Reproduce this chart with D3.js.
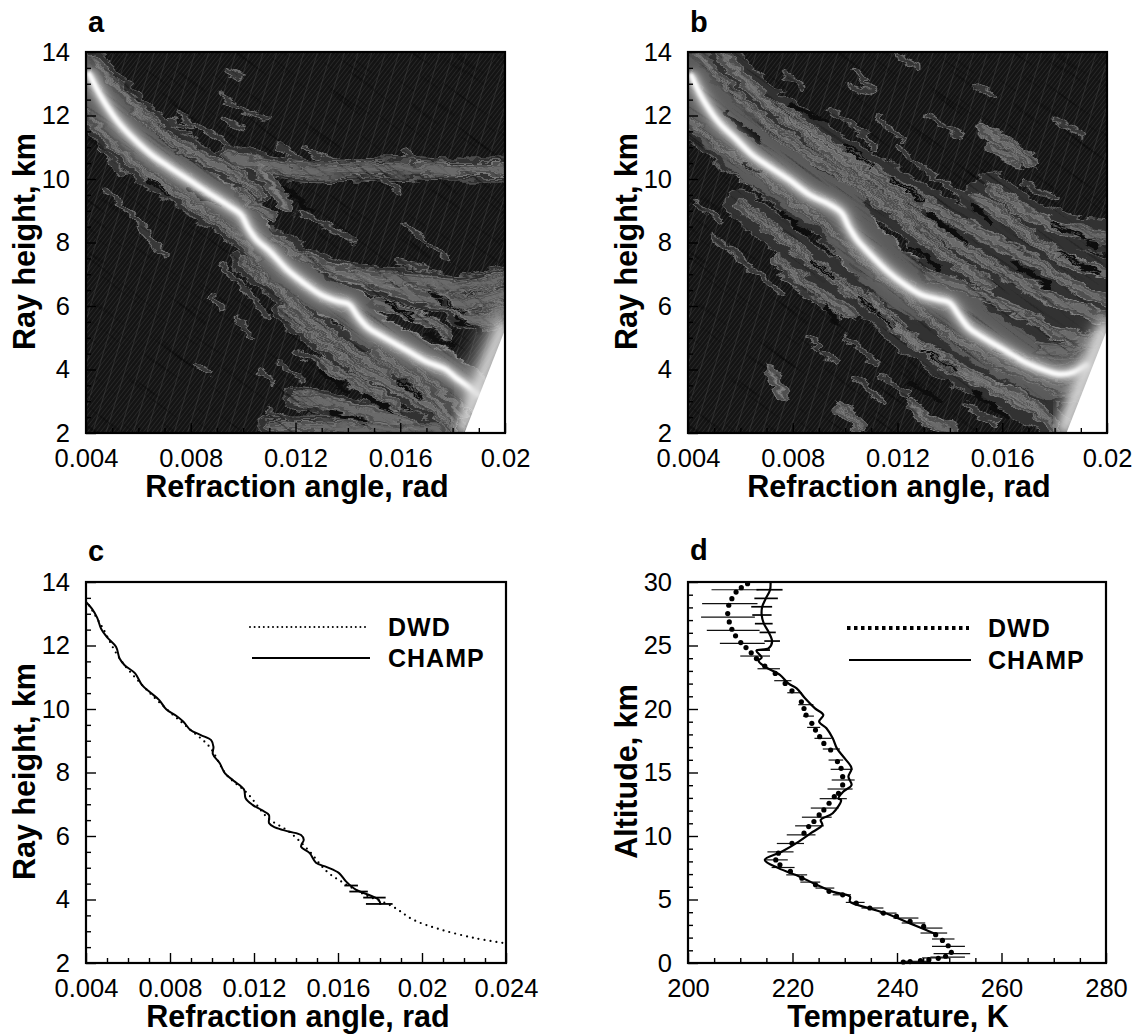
<!DOCTYPE html>
<html>
<head>
<meta charset="utf-8">
<title>Refraction angle and temperature profiles</title>
<script src="https://cdn.jsdelivr.net/npm/d3@7"></script>
<style>
	body{margin:0;background:#fff;}
	svg{display:block;}
	text{font-family:"Liberation Sans",Arial,sans-serif;fill:#000;}
</style>
</head>
<body>
<div id="Container"></div>
<script>
// tick values
var rayTicks=[2,4,6,8,10,12,14];
var rayMinor=[2.5,3,3.5,4.5,5,5.5,6.5,7,7.5,8.5,9,9.5,10.5,11,11.5,12.5,13,13.5];
var angleTicksTop=[0.004,0.008,0.012,0.016,0.02];
var angleMinorTop=[0.005,0.006,0.007,0.009,0.01,0.011,0.013,0.014,0.015,0.017,0.018,0.019];
var angleTicksC=[0.004,0.008,0.012,0.016,0.02,0.024];
var angleMinorC=[0.005,0.006,0.007,0.009,0.01,0.011,0.013,0.014,0.015,0.017,0.018,0.019,0.021,0.022,0.023];
var altTicks=[0,5,10,15,20,25,30];
var altMinor=[1,2,3,4,6,7,8,9,11,12,13,14,16,17,18,19,21,22,23,24,26,27,28,29];
var tempTicks=[200,220,240,260,280];
var tempMinor=[205,210,215,225,230,235,245,250,255,265,270,275];

// bright ridge of the maps, [angle in mrad, height km]
var ridgeA=[[4.09,13.37],[4.58,12.59],[5.22,11.8],[5.87,11.23],[6.51,10.76],[7.16,10.39],[7.93,9.97],[8.7,9.55],[9.48,9.14],[9.93,8.87],[10.19,8.46],[10.51,8.09],[11.02,7.72],[11.67,7.15],[12.31,6.73],[12.96,6.36],[13.6,6.15],[14.05,6.05],[14.37,5.68],[14.76,5.32],[15.28,5.06],[16.18,4.64],[16.95,4.27],[17.72,4.01],[18.11,3.75],[18.63,3.44],[19.01,3.17]];
var ridgeB=[[4.1,13.32],[4.52,12.59],[5.16,11.8],[5.81,11.28],[6.45,10.76],[7.1,10.39],[7.87,9.97],[8.65,9.5],[9.42,9.19],[9.87,8.93],[10.13,8.51],[10.45,8.09],[10.97,7.62],[11.61,7.1],[12.26,6.68],[12.9,6.36],[13.55,6.21],[14,6.1],[14.32,5.74],[14.71,5.32],[15.23,5.03],[16.13,4.59],[16.9,4.22],[17.68,3.96],[18.19,3.85],[18.71,3.91],[19.29,4.17]];
var wedge=[[18.45,2],[20,5.25],[20,2]];
var wedgeEdge=[[18.3,2],[19.1,3.7],[20,5.5]];
var wedgeGlowA=[[18.4,3],[19.2,4.6],[20,6.3]];

// grey streaks around the ridge, mrad / km
var wideA=[
	[[4.3,13.7],[5.2,12.9],[6.2,12],[7.2,11.3],[8.4,10.7],[9.6,10.2],[10.6,9.6]],
	[[9.4,10.7],[11,10.4],[12.6,10.25],[14.4,10.3],[16,10.35],[18,10.3],[20,10.3]],
	[[9.9,9.5],[10.5,9.1],[11.1,8.85]],
	[[10.6,10.4],[11.2,9.7],[11.7,9.1]],
	[[4.1,12],[5.2,11],[6.4,10.1],[7.6,9.5],[8.8,8.8],[9.8,8.2],[10.6,7.5]],
	[[11.2,8.1],[12.6,7.4],[14,7],[15.6,6.6],[17.2,6.2],[18.6,6.1],[20,6.4]],
	[[13.4,7.1],[15,6.9],[16.6,6.8],[18.2,6.6],[20,6.9]],
	[[15,6.1],[16.5,5.7],[17.8,5.2]],
	[[17.5,6.4],[18.6,5.6],[19.4,5.6],[20,5.9]],
	[[10,7.4],[11.5,6.4],[12.5,5.6],[13.5,5],[14.5,4.4],[15.5,3.9]],
	[[11.6,5.8],[13,4.9],[14.5,4],[16,3.4],[17.2,2.8],[18,2.2]],
	[[15,4.6],[16.2,3.9],[17.2,3.2],[18,2.4]],
	[[16.6,4],[17.5,3.4],[18.3,2.6]],
	[[12,3.1],[13.5,2.9],[15,2.6],[16.5,2.3]],
	[[11,2.2],[13,2.2],[15,2.1],[17.5,2.1]],
	[[13,4.2],[14.5,3.5],[15.8,2.9]]
];
var thinA=[
	[[9.4,13.4],[9.9,13.2]],[[9.2,12.6],[10,12.2],[10.9,11.9]],[[9.2,11.9],[10,11.6]],[[7.6,12],[8.4,11.6],[9.4,11.1]],[[7.2,11.8],[8,11.6]],
	[[11.4,11.1],[12,10.6]],[[12.4,11],[13.4,10.5]],[[15.4,10],[16,9.6]],[[16.2,10.9],[16.6,10.4]],[[12.2,8.9],[13.2,8.5],[14.2,8.1]],
	[[16.2,8.6],[17,8],[17.8,7.5]],[[16,7.4],[17,7.2]],[[4.6,10.9],[5.4,10.2]],[[4.8,9.6],[5.6,9],[6.4,8.3]],[[6,8.5],[7,7.6]],
	[[9.2,7.3],[10.2,6.4],[11,5.6]],[[8.8,6.3],[9.2,5.9]],[[9.8,5.6],[10.4,5]],[[8.2,4.1],[8.8,3.9]],[[10.6,4],[11.2,3.6]],[[11.4,4.2],[12.2,3.7]],
	[[11,2.7],[12,2.4]],[[12,4.6],[13.2,4]]
];
var darkA=[
	[[8,9.7],[9,9.2]],[[6.4,9.9],[7.2,9.5]],[[11.6,9.7],[12.6,9]],[[15.5,6.1],[16.5,5.6]],[[17,5.1],[18,4.7]],[[18.2,5.6],[19,5.2]],
	[[17.2,6.4],[18.4,5.8]],[[13,3.9],[14,3.3]],[[14.6,3.2],[15.6,2.7]],[[13.4,2.6],[14.6,2.4]],[[16,3.6],[16.8,3.1]]
];
var wideB=[
	[[4.3,14],[5.4,13],[6.6,12],[8,11.1],[9.6,10.3],[11,9.5],[12.4,8.6],[14,7.5],[15.5,6.7]],
	[[5.2,14],[6.4,12.9],[7.6,12],[9,11.1],[10.6,10.2],[12.2,9.2],[13.8,8.2],[15.4,7.4],[17,6.6],[18.6,6],[20,5.6]],
	[[7.6,12.2],[9.2,11.2],[10.8,10.4],[12.4,9.6],[14,8.8],[15.6,8.1],[17.2,7.4],[18.8,6.6],[20,6.2]],
	[[15,9.4],[16,8.9],[17.2,8.1],[18.6,7.4],[20,7]],
	[[15.6,9.7],[17,8.9],[18.4,8.4],[20,8.2]],
	[[15.2,11.6],[16.2,11.1],[17.2,10.5]],
	[[15.6,11],[16.6,10.6]],
	[[4.1,11.8],[5.4,10.9],[6.8,10.1],[8,9.3],[9.2,8.6],[10.2,7.8],[11.6,6.8],[13,5.8],[14.2,5],[15.4,4.4]],
	[[6,9.2],[7.4,8.3],[8.6,7.5],[10,6.6],[11.4,5.8],[12.8,4.8],[14.4,3.9],[16,3.3],[17.4,2.6]],
	[[7.4,7.4],[8.6,6.6],[10.2,5.8]],
	[[11,6.2],[12.4,5],[14,4.2],[15.6,3.5],[17,3],[18,2.2]],
	[[15.5,4.3],[17,3.8],[18.2,3.4],[19,3.6]],
	[[12.6,2.9],[13.1,2.4],[14,2.1]],
	[[7.2,3.9],[7.6,3.2]],
	[[9.8,2.8],[10.6,2.2]],
	[[13,7],[14.5,6.6],[16.4,5.9],[18,5.2],[19.6,4.8]],
	[[17.4,4.6],[18.4,4.6],[19.6,5]]
];
var thinB=[
	[[11.9,13.9],[12.8,13.5]],[[7.6,13.4],[8.4,12.9]],[[10.2,13],[11,12.7]],[[15,13],[15.6,12.6]],[[9.4,12.2],[10.4,11.6],[11.2,11]],
	[[11.2,12],[12.2,11.2]],[[13.2,12],[14.4,11.3]],[[18,11.9],[19,11.4]],[[16.8,9.9],[18,9.4]],[[12,11],[13.2,10.2],[14.4,9.5]],
	[[7.4,7.2],[8.8,6.2],[9.8,5.6]],[[5,8.2],[6.4,7.2],[7.6,6.4]],[[10,5],[11.2,4.2]],[[11.4,3.8],[12.4,3.2]],[[14.6,2.9],[15.8,2.3]],
	[[10.4,13.4],[11,12.8]],[[13.6,10],[15,9.2]],[[4.3,9.3],[5.2,8.7]],[[8.6,5],[9.6,4.2]],[[10.4,3.8],[11.4,3]]
];
var darkB=[
	[[6.2,10.4],[6.7,10.2]],[[7.6,8.9],[8.6,8.3]],[[5.5,12.1],[6.8,11.1]],[[8,12.3],[9.2,11.8]],[[10,11],[11,10.4]],[[11.8,10],[13,9.3]],
	[[13.2,8.9],[14.6,8]],[[14.8,9.2],[15.6,8.6]],[[16.4,7.4],[17.8,6.6]],[[18.2,7.7],[19.6,7]],[[18,8.6],[19.6,7.9]],[[12.6,7.9],[13.6,7.2]],
	[[10.6,6.2],[11.8,5.4]],[[13,4.6],[14.2,4]],[[15.8,4.7],[17,4.2]],[[12.4,3.6],[13.6,3]],[[15,3.2],[16.2,2.5]],[[9.2,6],[9.8,5.4]],[[8.8,7.4],[9.6,6.9]]
];

// panel c, [angle rad, height km]
var dwdRay=[[0.004,13.42],[0.00477,12.58],[0.0056,11.59],[0.00675,10.7],[0.0079,9.96],[0.00889,9.39],[0.00988,8.81],[0.0107,7.92],[0.01169,7.34],[0.01267,6.56],[0.01366,6.14],[0.01465,5.51],[0.01547,4.88],[0.0163,4.51],[0.01728,4.15],[0.0186,3.78],[0.01959,3.36],[0.02091,3.05],[0.02255,2.78],[0.02387,2.63]];
var champRay=[[0.004,13.37],[0.00428,13.16],[0.00453,12.88],[0.00472,12.53],[0.00502,12.25],[0.00543,11.96],[0.0056,11.59],[0.00584,11.38],[0.00634,11.12],[0.00667,10.75],[0.00708,10.51],[0.00749,10.28],[0.00782,9.99],[0.00831,9.78],[0.00864,9.6],[0.00897,9.34],[0.00947,9.18],[0.00996,9.02],[0.01007,8.81],[0.01004,8.58],[0.01037,8.29],[0.01062,7.97],[0.01103,7.74],[0.01152,7.47],[0.0116,7.19],[0.01193,6.98],[0.01235,6.82],[0.01271,6.66],[0.01272,6.4],[0.013,6.27],[0.01366,6.14],[0.01424,6.03],[0.01437,5.88],[0.01424,5.67],[0.01465,5.46],[0.01495,5.16],[0.01547,5.02],[0.01605,4.83],[0.01638,4.57],[0.01687,4.3],[0.01745,4.15],[0.01794,3.99],[0.01802,3.83]];
// [height, low, high]
var champRayBars=[[4.44,0.0163,0.01695],[4.25,0.01654,0.01742],[4.06,0.0172,0.01827],[3.86,0.01733,0.0186]];

// panel d, [temperature K, altitude km]
var dwdTemp=[[211.4,29.87],[210.2,29.55],[209.2,29.21],[208.4,28.69],[207.8,28.17],[207.6,27.51],[207.9,26.86],[208.4,26.28],[209.1,25.76],[210.1,25.23],[211.1,24.84],[212.1,24.42],[213.1,23.97],[214.7,23.37],[216.7,22.8],[218.6,22.01],[219.9,21.43],[221.7,20.57],[222.2,20.04],[222.6,19.52],[223.7,18.87],[224.4,18.34],[225.2,17.82],[226,17.29],[227.3,16.77],[228.6,15.85],[229.3,15.33],[229.6,14.67],[229.6,14.02],[228.8,13.36],[228,13.1],[227,12.58],[226,12.05],[225.1,11.66],[224.1,11.14],[223.1,10.74],[222.2,10.22],[219.9,9.43],[217.3,8.65],[216.8,8.12],[217.6,7.73],[219.6,7.21],[221.8,6.68],[224.4,6.16],[227,5.64],[229.6,5.37],[232.2,4.72],[234.8,4.33],[237.4,3.93],[239.9,3.67],[242.5,3.28],[245.1,2.88],[247.4,2.23],[248.7,1.78],[249.8,1.36],[250.4,0.84],[249.3,0.53],[247.9,0.37],[246.1,0.26],[244.5,0.19],[242.5,0.11],[241.2,0.08]];
var champTemp=[[215.8,30],[215.7,29.37],[214.9,28.71],[214.2,28.05],[214.1,27.4],[214.5,26.74],[215.4,26.08],[216.1,25.3],[215.4,24.77],[213.1,24.59],[214.1,24.06],[213.5,23.8],[214.7,23.33],[217.6,22.68],[219.2,22.02],[220.8,21.63],[222.4,20.84],[224.3,20.05],[225.9,19.53],[225.1,19],[226.5,18.48],[227.7,17.69],[228.5,16.9],[230,16.11],[231.3,15.33],[230.7,14.67],[231.3,14.02],[229.7,13.49],[228.8,12.96],[229.3,12.84],[227.7,11.79],[225.4,11.27],[225.7,10.87],[223.5,10.22],[221.2,9.56],[218,8.78],[214.7,8.12],[217.3,7.47],[221.4,6.8],[224.3,6.22],[227.8,5.6],[231,5.22],[231,4.83],[234.8,4.3],[238.7,3.78],[242.5,3.12],[245,2.7],[247.7,2.23]];
// [altitude, low, high]
var dwdTempBars=[[29.39,204.5,213.5],[28.29,202.7,213.3],[27.24,202.5,212.8],[26.19,203.6,213.7],[25.17,206.1,214.7],[24.17,210,215.7],[23.17,213.3,217.6],[22.23,216.5,219.8],[21.28,219,221.8],[20.34,221.1,224],[19.44,222,224.1],[18.55,222.8,225.3],[17.69,224.2,227.5],[16.85,225.8,229.1],[15.98,226.9,229.7],[15.25,227.3,231.5],[14.41,227.5,231.9],[13.7,226.7,231.5],[12.94,225.2,230.4],[12.2,223.5,228.8],[11.48,221.8,227.5],[10.8,220.5,226],[10.09,218.9,224.4],[9.41,217,222.2],[8.75,215.2,220.2],[8.12,214.7,219.1],[7.52,216,220.4],[6.94,218.8,222.8],[6.37,221.5,225.3],[5.9,224.4,228],[5.37,227.7,231.2],[4.77,230.2,233.8],[4.33,233.2,237.4],[3.93,236.7,239.9],[3.54,239.3,244.1],[3.15,240.9,245.4],[2.75,244.5,248.7],[2.36,244.5,249.6],[1.89,246.7,251],[1.31,246.7,253],[0.74,247,254],[0.47,246.4,253],[0.4,244.8,250],[0.13,241.2,246.4]];
var champTempBars=[[29.39,213.1,218.1],[28.71,212.7,217.2],[28.05,212.1,216.1],[27.4,212.3,216],[26.72,212.8,216.2],[26.03,213.7,216.8],[25.35,214.6,217.6],[24.64,213.1,215.7]];

var svg=d3.select("#Container").append("svg").attr("width",1135).attr("height",1034);
var defs=svg.append("defs");

function addBlur(id,dev)
{
	defs.append("filter").attr("id",id)
		.attr("x","-20%").attr("y","-20%").attr("width","140%").attr("height","140%")
		.append("feGaussianBlur").attr("stdDeviation",dev);
}
addBlur("blur1",1.5);
addBlur("blur3",3);
addBlur("blur6",5.5);
addBlur("blur12",10);

// wobble so the streak edges look like contour lines
var wob=defs.append("filter").attr("id","wobble")
	.attr("x","-5%").attr("y","-5%").attr("width","110%").attr("height","110%");
wob.append("feTurbulence").attr("type","fractalNoise").attr("baseFrequency","0.05 0.12")
	.attr("numOctaves",3).attr("seed",4).attr("result","n");
wob.append("feDisplacementMap").attr("in","SourceGraphic").attr("in2","n")
	.attr("scale",12).attr("xChannelSelector","R").attr("yChannelSelector","G");

// stretched grain, posterized, laid over the streaks for the dark lenses
var grain=defs.append("filter").attr("id","grain")
	.attr("x","0").attr("y","0").attr("width","100%").attr("height","100%");
grain.append("feTurbulence").attr("type","fractalNoise").attr("baseFrequency","0.015 0.3")
	.attr("numOctaves",3).attr("seed",11);
grain.append("feColorMatrix").attr("type","matrix")
	.attr("values","0 0 0 1.6 -0.1  0 0 0 1.6 -0.1  0 0 0 1.6 -0.1  0 0 0 0 1");
var gt=grain.append("feComponentTransfer");
["R","G","B"].forEach(function(c){
	gt.append("feFunc"+c).attr("type","discrete").attr("tableValues","0.15 0.35 0.6 0.85 1 1 1");
});

var fine=defs.append("pattern").attr("id","fineHatch").attr("patternUnits","userSpaceOnUse")
	.attr("width",3.4).attr("height",3.4).attr("patternTransform","rotate(38)");
fine.append("line").attr("x1",0).attr("y1",0).attr("x2",0).attr("y2",3.4)
	.attr("stroke","#363636").attr("stroke-width",1);
var coarse=defs.append("pattern").attr("id","coarseHatch").attr("patternUnits","userSpaceOnUse")
	.attr("width",13).attr("height",13).attr("patternTransform","rotate(17)");
coarse.append("line").attr("x1",0).attr("y1",0).attr("x2",0).attr("y2",13)
	.attr("stroke","#4c4c4c").attr("stroke-width",0.9);

function draw_frame(g,w,h,x,y,xt,xm,yt,ym,xname,yname,cx)
{
	var xAxis=d3.axisBottom(x).tickValues(xt).tickSize(-10).tickSizeOuter(0).tickPadding(16).tickFormat(function(d){return String(d);});
	var xMinorAxis=d3.axisBottom(x).tickValues(xm).tickSize(-5).tickSizeOuter(0).tickFormat("");
	var yAxis=d3.axisLeft(y).tickValues(yt).tickSize(-10).tickSizeOuter(0).tickPadding(16);
	var yMinorAxis=d3.axisLeft(y).tickValues(ym).tickSize(-5).tickSizeOuter(0).tickFormat("");

	[[xAxis,"translate(0,"+h+")"],[xMinorAxis,"translate(0,"+h+")"],[yAxis,""],[yMinorAxis,""]].forEach(function(a){
		var ax=g.append("g").attr("transform",a[1]).call(a[0]);
		ax.select(".domain").remove();
		ax.selectAll("line").attr("stroke","#000").attr("stroke-width",1.4);
		ax.selectAll("text").style("font-size","25.5px").attr("fill","#000");
	});

	g.append("rect").attr("width",w).attr("height",h)
		.attr("fill","none").attr("stroke","#000").attr("stroke-width",2.2);

	g.append("text").attr("x",cx).attr("y",h+64)
		.attr("text-anchor","middle").style("font-size","30.5px").style("font-weight","bold").text(xname);
	g.append("text").attr("transform","translate(-51,"+(h/2-1)+") rotate(-90)")
		.attr("text-anchor","middle").style("font-size","30.5px").style("font-weight","bold").text(yname);
}

function draw_map(left,letter,ridge,wide,thin,dark,halo,spread,wedgeGlow)
{
	var w=419,h=381;
	var g=svg.append("g").attr("transform","translate("+left+",52)");
	var x=d3.scaleLinear().domain([4,20]).range([0,w]);
	var y=d3.scaleLinear().domain([2,14]).range([h,0]);
	var line=d3.line().x(function(d){return x(d[0]);}).y(function(d){return y(d[1]);}).curve(d3.curveCatmullRom);
	var poly=d3.line().x(function(d){return x(d[0]);}).y(function(d){return y(d[1]);});

	defs.append("clipPath").attr("id","clip"+letter).append("rect").attr("width",w).attr("height",h);
	var p=g.append("g").attr("clip-path","url(#clip"+letter+")");

	p.append("rect").attr("width",w).attr("height",h).attr("fill","#141414");
	p.append("rect").attr("width",w).attr("height",h).attr("fill","url(#fineHatch)");
	p.append("rect").attr("width",w).attr("height",h).attr("fill","url(#coarseHatch)");

	// streaks, outline first then the fill, so that the edges read as contours
	var tex=p.append("g").attr("filter","url(#wobble)").attr("fill","none").attr("stroke-linecap","round");
	function strokes(data,width,color)
	{
		tex.append("g").selectAll("path").data(data).enter().append("path")
			.attr("d",line).attr("stroke",color).attr("stroke-width",width);
	}
	// only the long streaks get the faint skirt, short ones would turn into round blobs
	var longOnes=wide.filter(function(d){return d.length>3;});
	strokes(longOnes,spread+2,"#666");
	strokes([ridge],halo+3,"#858585");
	strokes(thin,6,"#707070");
	strokes(longOnes,spread,"#323232");
	strokes(wide,13,"#777");
	strokes([ridge],halo,"#5a5a5a");
	strokes(wide,11,"#4f4f4f");
	strokes(thin,3.8,"#383838");
	strokes(wide,4,"#6a6a6a");
	strokes(dark,5,"#0a0a0a");

	// grain only over the grey parts, the black background stays as it is
	p.append("g").attr("transform","translate("+(w/2)+","+(h/2)+") rotate(36)")
		.append("rect").attr("x",-w).attr("y",-h).attr("width",2*w).attr("height",2*h)
		.attr("filter","url(#grain)").style("mix-blend-mode","multiply");

	// fine light contour filaments running along the streaks
	var fil=p.append("g").attr("filter","url(#wobble)").attr("fill","none").attr("stroke","#8e8e8e")
		.attr("stroke-width",0.8).attr("opacity",0.7);
	[-8,-3,3,8].forEach(function(off){
		fil.append("g").attr("transform","translate("+(off*0.55)+","+off+")")
			.selectAll("path").data(wide.concat([ridge])).enter().append("path").attr("d",line);
	});

	// glow around the ridge
	p.append("path").datum(wedgeGlow).attr("d",line).attr("fill","none")
		.attr("stroke","#8a8a8a").attr("stroke-width",18).attr("opacity",0.9).attr("filter","url(#blur12)");
	p.append("path").datum(ridge).attr("d",line).attr("fill","none")
		.attr("stroke","#808080").attr("stroke-width",16).attr("opacity",0.55).attr("filter","url(#blur12)");
	p.append("path").datum(ridge).attr("d",line).attr("fill","none")
		.attr("stroke","#aaa").attr("stroke-width",12).attr("opacity",0.9).attr("filter","url(#blur6)");
	p.append("path").datum(ridge).attr("d",line).attr("fill","none")
		.attr("stroke","#ddd").attr("stroke-width",7).attr("filter","url(#blur3)");
	p.append("path").datum(ridge).attr("d",line).attr("fill","none")
		.attr("stroke","#fff").attr("stroke-width",4.5).attr("filter","url(#blur1)");

	// light edge along the white corner
	p.append("path").datum(wedgeEdge).attr("d",poly).attr("fill","none")
		.attr("stroke","#ddd").attr("stroke-width",14).attr("filter","url(#blur6)");
	p.append("path").datum(wedge).attr("d",poly).attr("fill","#fff");

	draw_frame(g,w,h,d3.scaleLinear().domain([0.004,0.02]).range([0,w]),y,angleTicksTop,angleMinorTop,rayTicks,rayMinor,"Refraction angle, rad","Ray height, km",211);
	g.append("text").attr("x",2).attr("y",-20).style("font-size","29px").style("font-weight","bold").text(letter);
}

function draw_legend(g,x1,x2,textX,y1,y2,dwdStyle,shiftSolid)
{
	var dwd=g.append("line").attr("x1",x1).attr("x2",x2).attr("y1",y1).attr("y2",y1).attr("stroke","#000");
	dwd.attr("stroke-width",dwdStyle[0]).attr("stroke-dasharray",dwdStyle[1]).attr("stroke-linecap",dwdStyle[2]);
	g.append("line").attr("x1",x1+shiftSolid).attr("x2",x2+shiftSolid).attr("y1",y2).attr("y2",y2)
		.attr("stroke","#000").attr("stroke-width",1.8);
	g.selectAll("text.leg").data(["DWD","CHAMP"]).enter().append("text").attr("class","leg")
		.attr("x",textX).attr("y",function(d,i){return (i?y2:y1)+9;})
		.style("font-size","25px").style("font-weight","bold").style("letter-spacing","1px").text(function(d){return d;});
}

function draw_c()
{
	var w=420,h=381;
	var g=svg.append("g").attr("transform","translate(86,582)");
	var x=d3.scaleLinear().domain([0.004,0.024]).range([0,w]);
	var y=d3.scaleLinear().domain([2,14]).range([h,0]);
	var line=d3.line().x(function(d){return x(d[0]);}).y(function(d){return y(d[1]);}).curve(d3.curveCatmullRom);

	g.append("path").datum(dwdRay).attr("d",line).attr("fill","none").attr("stroke","#000")
		.attr("stroke-width",2.2).attr("stroke-linecap","round").attr("stroke-dasharray","0 6");
	g.append("path").datum(champRay).attr("d",line).attr("fill","none").attr("stroke","#000").attr("stroke-width",2);
	g.selectAll("line.bar").data(champRayBars).enter().append("line").attr("class","bar")
		.attr("x1",function(d){return x(d[1]);}).attr("x2",function(d){return x(d[2]);})
		.attr("y1",function(d){return y(d[0]);}).attr("y2",function(d){return y(d[0]);})
		.attr("stroke","#000").attr("stroke-width",1.8);

	draw_frame(g,w,h,x,y,angleTicksC,angleMinorC,rayTicks,rayMinor,"Refraction angle, rad","Ray height, km",212);
	g.append("text").attr("x",2).attr("y",-21).style("font-size","29px").style("font-weight","bold").text("c");
	draw_legend(g,164,282,302,45,76,[2,"0 4.6","round"],2);
}

function draw_d()
{
	var w=418,h=381;
	var g=svg.append("g").attr("transform","translate(688,582)");
	var x=d3.scaleLinear().domain([200,280]).range([0,w]);
	var y=d3.scaleLinear().domain([0,30]).range([h,0]);
	var line=d3.line().x(function(d){return x(d[0]);}).y(function(d){return y(d[1]);}).curve(d3.curveCatmullRom);

	g.selectAll("line.thin").data(dwdTempBars).enter().append("line").attr("class","thin")
		.attr("x1",function(d){return x(d[1]);}).attr("x2",function(d){return x(d[2]);})
		.attr("y1",function(d){return y(d[0]);}).attr("y2",function(d){return y(d[0]);})
		.attr("stroke","#111").attr("stroke-width",1.2);
	g.selectAll("line.thick").data(champTempBars).enter().append("line").attr("class","thick")
		.attr("x1",function(d){return x(d[1]);}).attr("x2",function(d){return x(d[2]);})
		.attr("y1",function(d){return y(d[0]);}).attr("y2",function(d){return y(d[0]);})
		.attr("stroke","#000").attr("stroke-width",1.7);
	g.selectAll("circle").data(dwdTemp).enter().append("circle")
		.attr("cx",function(d){return x(d[0]);}).attr("cy",function(d){return y(d[1]);})
		.attr("r",2.6).attr("fill","#000");
	g.append("path").datum(champTemp).attr("d",line).attr("fill","none").attr("stroke","#000").attr("stroke-width",2.2);

	draw_frame(g,w,h,x,y,tempTicks,tempMinor,altTicks,altMinor,"Temperature, K","Altitude, km",210);
	g.append("text").attr("x",2).attr("y",-22).style("font-size","29px").style("font-weight","bold").text("d");
	draw_legend(g,159,281,300,46,78,[4,"3.5 3.5","butt"],2);
}

draw_map(86,"a",ridgeA,wideA,thinA,darkA,34,22,wedgeGlowA);
draw_map(688,"b",ridgeB,wideB,thinB,darkB,52,30,wedgeEdge);
draw_c();
draw_d();
</script>
</body>
</html>
